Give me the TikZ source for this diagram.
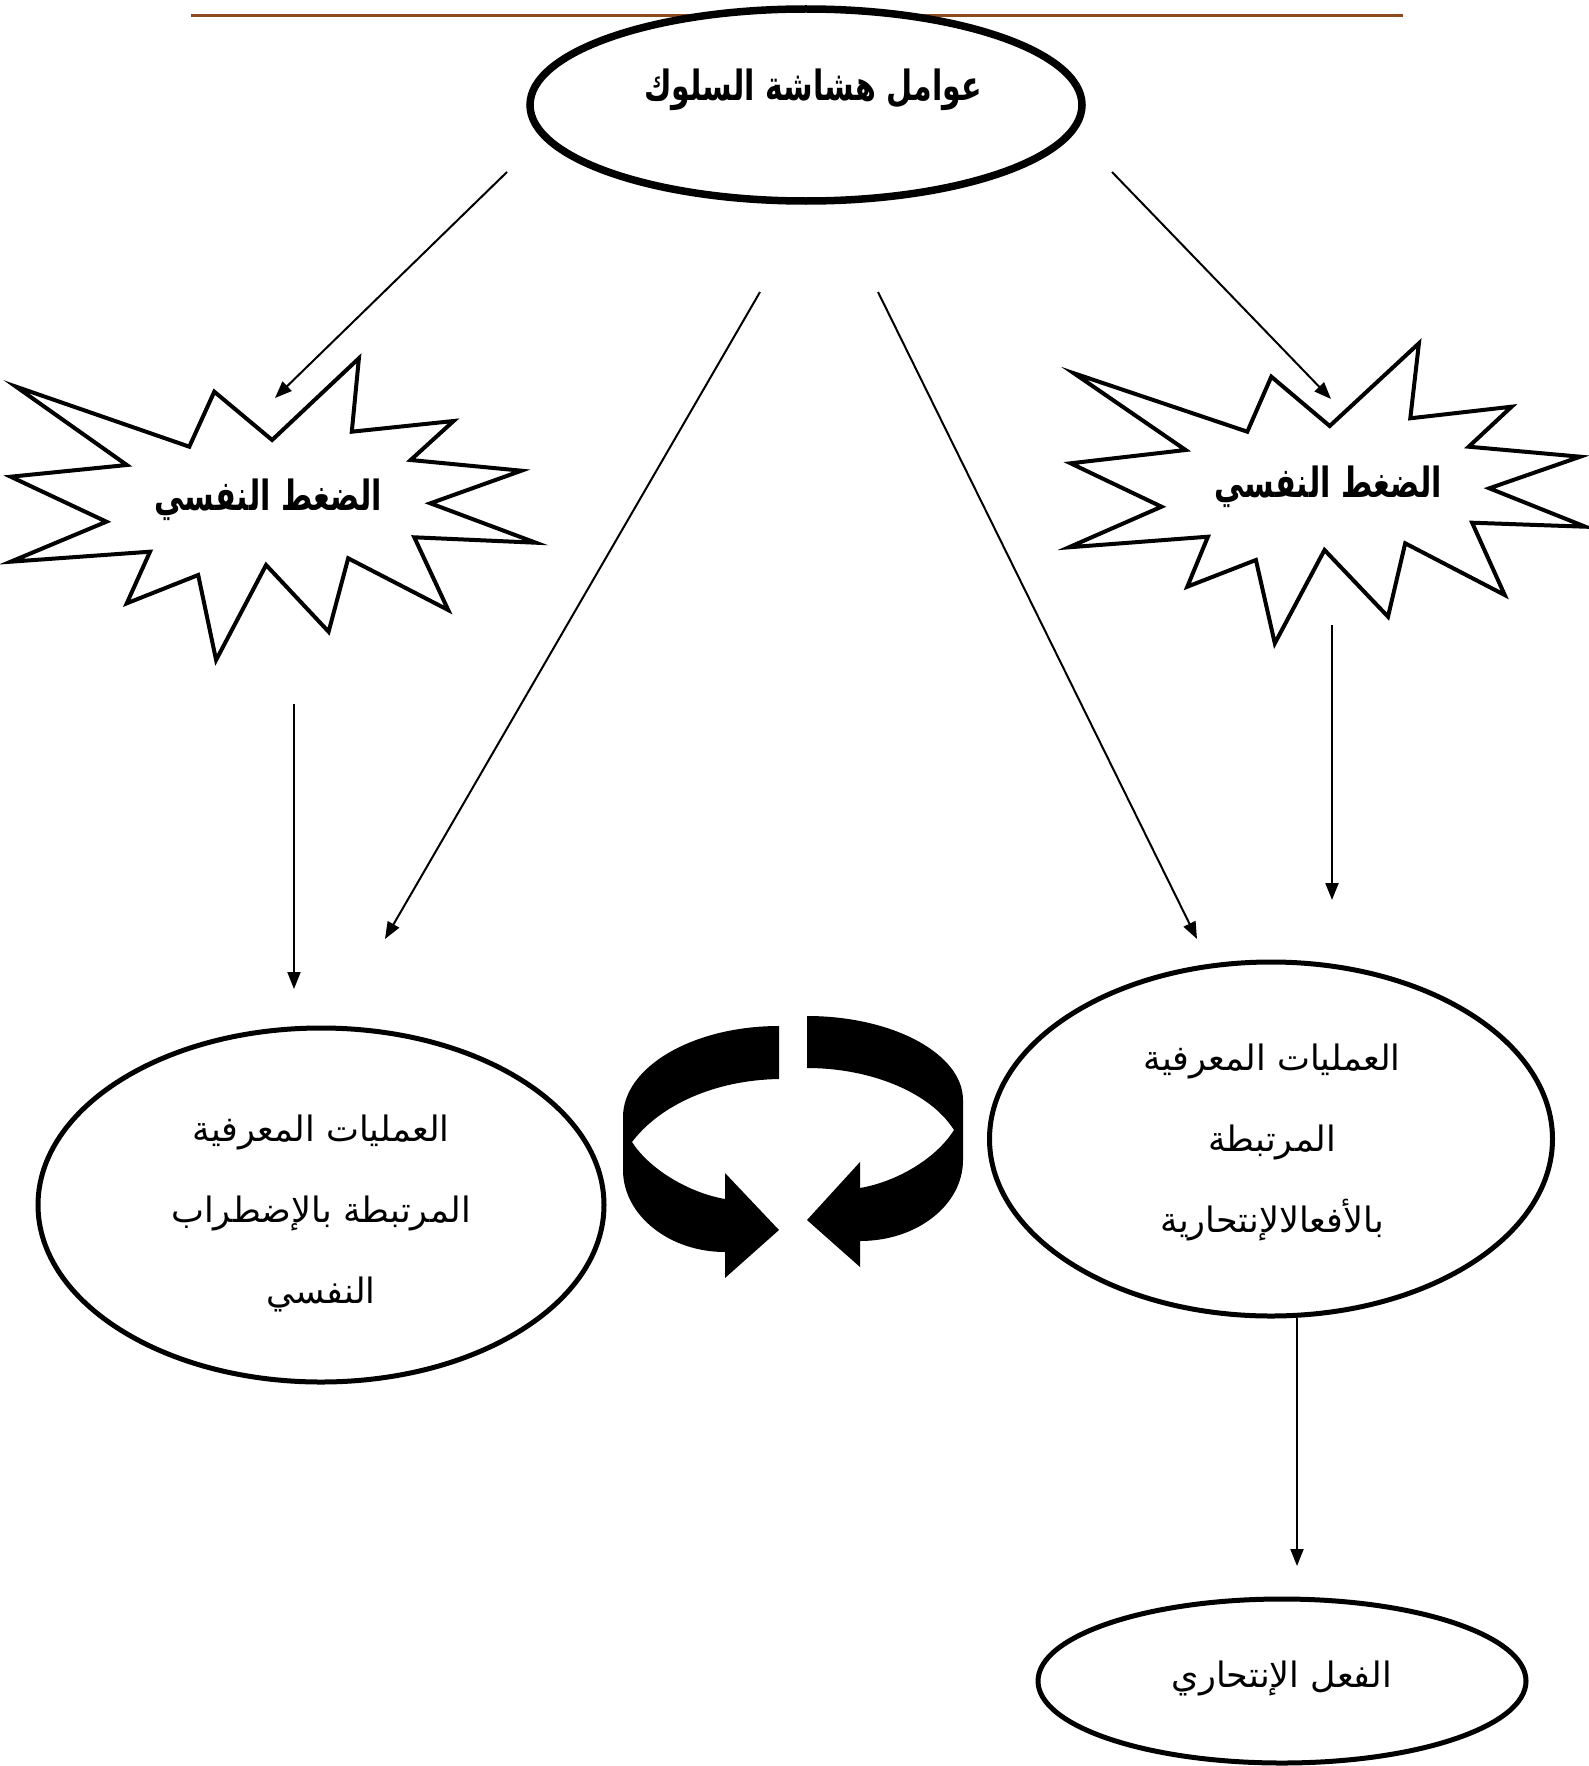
\documentclass[tikz,border=0pt]{standalone}
\usepackage{fontspec}
\usetikzlibrary{arrows.meta,shapes.geometric}
\TeXXeTstate=1
\newfontfamily\arabicfont[Script=Arabic]{DejaVu Sans}
\definecolor{rulebrown}{RGB}{140,74,30}
\newcommand{\tallbold}[1]{\scalebox{0.94}[1.3]{\beginR #1\endR}}
\tikzset{
  conn/.style={line width=2pt, -{Triangle[length=17pt,width=13pt]}},
  bigoval/.style={ellipse, draw, line width=5pt, fill=white, inner sep=0pt},
  burst/.style={draw, line width=4pt, line join=miter, fill=white},
  lbl/.style={font=\arabicfont\fontsize{35}{81}\selectfont, align=center, inner sep=0pt},
  blbl/.style={font=\arabicfont\bfseries\fontsize{32}{40}\selectfont, inner sep=0pt},
  twist/.style={fill=black, draw=none},
}
\begin{document}
\begin{tikzpicture}[x=1pt,y=-1pt]
\useasboundingbox (0,0) rectangle (1588,1766);
\fill[white] (0,0) rectangle (1588,1766);
\draw[rulebrown, line width=3pt] (191,16) -- (1403,16);

% top ellipse
\node[bigoval, line width=7.5pt, minimum width=552pt, minimum height=192pt] (top) at (806,105) {};
\node[blbl] (toptext) at (813,90) {\tallbold{عوامل هشاشة السلوك}};

% left burst
\draw[burst] (358.9,358.3) -- (351.8,431.7) -- (453.6,421) -- (410.7,460) -- (521.4,470.7)
  -- (430.4,503.3) -- (535.7,542.7) -- (414.3,537.3) -- (448.2,610) -- (348.2,558.3)
  -- (328.6,631.7) -- (266.1,565) -- (216.1,660) -- (198.2,575) -- (126.8,603.3)
  -- (150,551.7) -- (10.7,561.7) -- (106.4,521.7) -- (10.7,476.7) -- (126.8,465)
  -- (16.1,386.7) -- (189.3,446.7) -- (214.3,391.7) -- (272.1,440) -- cycle;
\node[blbl] (lstress) at (268,500) {\tallbold{الضغط النفسي}};

% right burst
\draw[burst] (1418.9,343.3) -- (1410.3,418.3) -- (1511.6,406.7) -- (1468.7,446.7) -- (1580.2,456.7)
  -- (1489.3,488.3) -- (1585.3,526.7) -- (1472.1,522.7) -- (1504.7,595) -- (1405.2,543.3)
  -- (1388,616.7) -- (1324.5,550) -- (1274.8,643.3) -- (1255.9,560) -- (1187.3,586.7)
  -- (1207.9,536.7) -- (1068.9,547.3) -- (1161.5,506.7) -- (1070.6,463.3) -- (1185.6,450)
  -- (1074,373.3) -- (1247.3,431.7) -- (1271.3,376.7) -- (1329.7,426) -- cycle;
\node[blbl] (rstress) at (1328,487) {\tallbold{الضغط النفسي}};

% lower ellipses
\node[bigoval, minimum width=566pt, minimum height=354pt] (lell) at (321,1205) {};
\node[lbl] (ltext) at (321,1213) {\beginR العمليات المعرفية\endR\\ \beginR المرتبطة بالإضطراب\endR\\ \beginR النفسي\endR};

\node[bigoval, minimum width=563pt, minimum height=354pt] (rell) at (1271,1139) {};
\node[lbl] (rtext) at (1272,1142) {\beginR العمليات المعرفية\endR\\ \beginR المرتبطة\endR\\ \beginR بالأفعالالإنتحارية\endR};

\node[bigoval, minimum width=488pt, minimum height=164pt] (act) at (1282,1681) {};
\node[lbl] (acttext) at (1282,1678) {\beginR الفعل الإنتحاري\endR};

% circular arrows
\fill[twist] (779,1026) .. controls (693,1026) and (623,1067) .. (623,1117)
  -- (623,1170) .. controls (623,1215) and (669,1252) .. (725,1252)
  -- (725,1278) -- (779,1230) -- (725,1173) -- (725,1199)
  .. controls (690,1193) and (650,1170) .. (632,1142)
  .. controls (660,1105) and (715,1080) .. (779,1079) -- cycle;
\fill[twist] (807,1016) .. controls (893,1016) and (963,1054) .. (963,1100)
  -- (963,1160) .. controls (963,1205) and (917,1241) .. (860,1241)
  -- (860,1267) -- (807,1220) -- (860,1162) -- (860,1188)
  .. controls (895,1182) and (935,1160) .. (954,1130)
  .. controls (930,1092) and (870,1068) .. (807,1068) -- cycle;

% connectors
\coordinate (s1) at (507,172);  \coordinate (e1) at (275,398);
\coordinate (s2) at (1112,172); \coordinate (e2) at (1331,399);
\coordinate (s3) at (760,292);  \coordinate (e3) at (385,939);
\coordinate (s4) at (878,292);  \coordinate (e4) at (1197,939);
\coordinate (s5) at (294,704);  \coordinate (e5) at (294,989);
\coordinate (s6) at (1332,625); \coordinate (e6) at (1332,900);
\coordinate (s7) at (1297,1318); \coordinate (e7) at (1297,1566);
\draw[conn] (s1) -- (e1);
\draw[conn] (s2) -- (e2);
\draw[conn] (s3) -- (e3);
\draw[conn] (s4) -- (e4);
\draw[conn] (s5) -- (e5);
\draw[conn] (s6) -- (e6);
\draw[conn] (s7) -- (e7);
\end{tikzpicture}
\end{document}
